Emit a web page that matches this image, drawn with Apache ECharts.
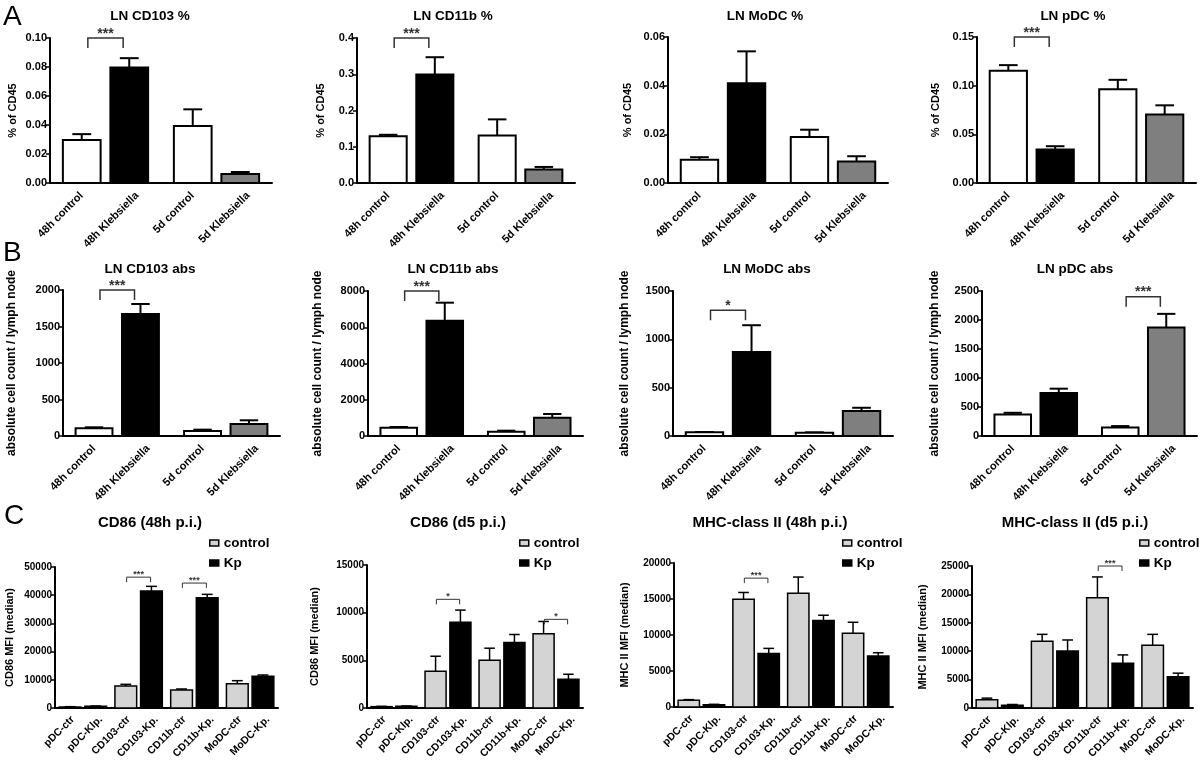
<!DOCTYPE html>
<html>
<head>
<meta charset="utf-8">
<script src="https://cdn.jsdelivr.net/npm/echarts@6/dist/echarts.min.js"></script>
<style>html,body{margin:0;padding:0;background:#fff}#c{width:1200px;height:765px}</style>
</head>
<body>
<div id="c"></div>
<script>
const FONT = '"Liberation Sans", Arial, Helvetica, sans-serif';

// ---------- category / tick labels ----------
const groupLabels = ['48h control', '48h Klebsiella', '5d control', '5d Klebsiella'];
const markerLabels = ['pDC-ctr', 'pDC-Klp.', 'CD103-ctr', 'CD103-Kp.', 'CD11b-ctr', 'CD11b-Kp.', 'MoDC-ctr', 'MoDC-Kp.'];
const legendNames = ['control', 'Kp'];

// ---------- A: % of CD45 (mean, SEM) ----------
const cd103Pct = [0.0296, 0.0797, 0.0393, 0.0062];
const cd103PctSem = [0.0041, 0.0064, 0.0115, 0.0014];
const cd11bPct = [0.129, 0.299, 0.131, 0.037];
const cd11bPctSem = [0.004, 0.048, 0.0445, 0.0073];
const modcPct = [0.0096, 0.041, 0.0189, 0.0088];
const modcPctSem = [0.001, 0.0131, 0.003, 0.0022];
const pdcPct = [0.1153, 0.0344, 0.0963, 0.0705];
const pdcPctSem = [0.0058, 0.0034, 0.0097, 0.0093];

// ---------- B: absolute cell count / lymph node ----------
const cd103Abs = [105, 1671, 68, 164];
const cd103AbsSem = [14, 137, 19, 51];
const cd11bAbs = [460, 6363, 239, 1011];
const cd11bAbsSem = [37, 993, 55, 203];
const modcAbs = [38, 870, 34, 258];
const modcAbsSem = [3, 276, 4, 34];
const pdcAbs = [371, 742, 148, 1872];
const pdcAbsSem = [29, 74, 23, 234];

// ---------- C: MFI (median); populations pDC, CD103, CD11b, MoDC ----------
const cd86h48Ctrl = [355, 7800, 6380, 8630];
const cd86h48CtrlSem = [115, 590, 360, 1060];
const cd86h48Kp = [590, 41490, 39130, 11230];
const cd86h48KpSem = [110, 1650, 1170, 470];
const cd86d5Ctrl = [140, 3855, 5012, 7780];
const cd86d5CtrlSem = [35, 1575, 1261, 1297];
const cd86d5Kp = [175, 9007, 6869, 3014];
const cd86d5KpSem = [35, 1263, 841, 526];
const mhcH48Ctrl = [930, 14977, 15814, 10233];
const mhcH48CtrlSem = [93, 930, 2233, 1534];
const mhcH48Kp = [326, 7442, 12000, 7070];
const mhcH48KpSem = [46, 698, 744, 465];
const mhcD5Ctrl = [1450, 11740, 19393, 11040];
const mhcD5CtrlSem = [290, 1227, 3679, 1927];
const mhcD5Kp = [500, 10047, 7886, 5490];
const mhcD5KpSem = [116, 1927, 1460, 644];

// ---------- significance brackets: [from bar, to bar, level, label] ----------
const cd103PctSig = [[0, 1, 0.1, '***']];
const cd11bPctSig = [[0, 1, 0.4, '***']];
const modcPctSig = [];
const pdcPctSig = [[0, 1, 0.15, '***']];
const cd103AbsSig = [[0, 1, 2000, '***']];
const cd11bAbsSig = [[0, 1, 8000, '***']];
const modcAbsSig = [[0, 1, 1300, '*']];
const pdcAbsSig = [[2, 3, 2400, '***']];
const cd86h48Sig = [[2, 3, 46400, '***'], [4, 5, 44300, '***']];
const cd86d5Sig = [[2, 3, 11400, '*'], [6, 7, 9300, '*']];
const mhcH48Sig = [[2, 3, 17900, '***']];
const mhcD5Sig = [[4, 5, 25000, '***']];

// ---------- styles ----------
const abColours = ['#ffffff', '#000000', '#ffffff', '#7f7f7f'];
const ctrlColour = '#d4d4d4';
const kpColour = '#000000';

// ---------- panel layout ----------
const panels = [
  // row A
  {title: 'LN CD103 %', mean: cd103Pct, sem: cd103PctSem, sig: cd103PctSig, max: 0.10, step: 0.02, dec: 2, name: '% of CD45',
   g: [50, 38, 222, 145], tx: 150, ty: 9, gap: 32},
  {title: 'LN CD11b %', mean: cd11bPct, sem: cd11bPctSem, sig: cd11bPctSig, max: 0.4, step: 0.1, dec: 1, name: '% of CD45',
   g: [357, 38, 218, 145], tx: 453, ty: 9, gap: 31},
  {title: 'LN MoDC %', mean: modcPct, sem: modcPctSem, sig: modcPctSig, max: 0.06, step: 0.02, dec: 2, name: '% of CD45',
   g: [668, 37, 220, 146], tx: 765, ty: 9, gap: 35},
  {title: 'LN pDC %', mean: pdcPct, sem: pdcPctSem, sig: pdcPctSig, max: 0.15, step: 0.05, dec: 2, name: '% of CD45',
   g: [977, 37, 219, 146], tx: 1073, ty: 9, gap: 36},
  // row B
  {title: 'LN CD103 abs', mean: cd103Abs, sem: cd103AbsSem, sig: cd103AbsSig, max: 2000, step: 500, dec: 0, name: 'absolute cell count / lymph node',
   g: [63, 290, 217, 146], tx: 150, ty: 262, gap: 45},
  {title: 'LN CD11b abs', mean: cd11bAbs, sem: cd11bAbsSem, sig: cd11bAbsSig, max: 8000, step: 2000, dec: 0, name: 'absolute cell count / lymph node',
   g: [368, 291, 215, 145], tx: 453, ty: 262, gap: 44},
  {title: 'LN MoDC abs', mean: modcAbs, sem: modcAbsSem, sig: modcAbsSig, max: 1500, step: 500, dec: 0, name: 'absolute cell count / lymph node',
   g: [673, 291, 220, 145], tx: 767, ty: 262, gap: 42},
  {title: 'LN pDC abs', mean: pdcAbs, sem: pdcAbsSem, sig: pdcAbsSig, max: 2500, step: 500, dec: 0, name: 'absolute cell count / lymph node',
   g: [982, 291, 215, 145], tx: 1075, ty: 262, gap: 41},
  // row C
  {title: 'CD86 (48h p.i.)', ctrl: cd86h48Ctrl, ctrlSem: cd86h48CtrlSem, kp: cd86h48Kp, kpSem: cd86h48KpSem, sig: cd86h48Sig,
   max: 50000, step: 10000, dec: 0, name: 'CD86 MFI (median)', g: [55, 567, 223, 141], tx: 150, ty: 515, gap: 40, lx: 209, ly: 536},
  {title: 'CD86 (d5 p.i.)', ctrl: cd86d5Ctrl, ctrlSem: cd86d5CtrlSem, kp: cd86d5Kp, kpSem: cd86d5KpSem, sig: cd86d5Sig,
   max: 15000, step: 5000, dec: 0, name: 'CD86 MFI (median)', g: [367, 565, 216, 143], tx: 458, ty: 515, gap: 47, lx: 519, ly: 536},
  {title: 'MHC-class II (48h p.i.)', ctrl: mhcH48Ctrl, ctrlSem: mhcH48CtrlSem, kp: mhcH48Kp, kpSem: mhcH48KpSem, sig: mhcH48Sig,
   max: 20000, step: 5000, dec: 0, name: 'MHC II MFI (median)', g: [674, 563, 219, 144], tx: 770, ty: 515, gap: 44, lx: 842, ly: 536},
  {title: 'MHC-class II (d5 p.i.)', ctrl: mhcD5Ctrl, ctrlSem: mhcD5CtrlSem, kp: mhcD5Kp, kpSem: mhcD5KpSem, sig: mhcD5Sig,
   max: 25000, step: 5000, dec: 0, name: 'MHC II MFI (median)', g: [972, 566, 221, 142], tx: 1075, ty: 515, gap: 44, lx: 1139, ly: 536}
];

// ---------- renderers ----------
function barsRenderer(colours, shiftFrac, widthFrac, lw) {
  return function (params, api) {
    const i = api.value(0);
    const v = api.value(1);
    const e = api.value(2);
    const band = api.size([1, 0])[0];
    const dir = i % 2 === 0 ? 1 : -1;
    const p = api.coord([i, v]);
    const b = api.coord([i, 0]);
    const t = api.coord([i, e]);
    const cx = p[0] + dir * shiftFrac * band;
    const w = widthFrac * band;
    const fill = colours ? colours[i] : api.visual('color');
    return {
      type: 'group',
      children: [
        {type: 'line', shape: {x1: cx, y1: p[1], x2: cx, y2: t[1]}, style: {stroke: '#000', lineWidth: lw}},
        {type: 'line', shape: {x1: cx - w / 4, y1: t[1], x2: cx + w / 4, y2: t[1]}, style: {stroke: '#000', lineWidth: lw}},
        {type: 'rect', shape: {x: cx - w / 2, y: p[1], width: w, height: b[1] - p[1]}, style: {fill: fill, stroke: '#000', lineWidth: lw}}
      ]
    };
  };
}

function bracketRenderer(sig, shiftFrac, insetFrac, leg, starSize, lw) {
  return function (params, api) {
    const i1 = api.value(0), i2 = api.value(1), lvl = api.value(2);
    const band = api.size([1, 0])[0];
    const a = api.coord([i1, lvl]);
    const c = api.coord([i2, lvl]);
    const x1 = a[0] + (i1 % 2 === 0 ? 1 : -1) * shiftFrac * band + insetFrac * band;
    const x2 = c[0] + (i2 % 2 === 0 ? 1 : -1) * shiftFrac * band - insetFrac * band;
    const y = a[1];
    return {
      type: 'group',
      children: [
        {type: 'polyline', shape: {points: [[x1, y + leg], [x1, y], [x2, y], [x2, y + leg]]},
         style: {stroke: '#333', lineWidth: lw, fill: null}},
        {type: 'text', x: (x1 + x2) / 2, y: y - starSize * 0.8,
         style: {text: sig[params.dataIndex][3], fill: '#333', align: 'center', verticalAlign: 'top',
                 font: 'bold ' + starSize + 'px ' + FONT}}
      ]
    };
  };
}

// ---------- build option ----------
const grids = [], xAxes = [], yAxes = [], titles = [], series = [], legends = [];

panels.forEach(function (p, k) {
  const isC = !!p.ctrl;
  grids.push({left: p.g[0], top: p.g[1], width: p.g[2], height: p.g[3], containLabel: false, outerBoundsMode: 'none'});
  xAxes.push({
    type: 'category', gridIndex: k, data: isC ? markerLabels : groupLabels, boundaryGap: true,
    axisLine: {show: true, lineStyle: {color: '#000', width: 2}},
    axisTick: {show: false},
    splitLine: {show: false},
    axisLabel: {interval: 0, rotate: 45, margin: isC ? 6 : 7, verticalAlign: 'top', color: '#000', fontWeight: 'bold',
                fontSize: isC ? 10.5 : 11, fontFamily: FONT}
  });
  yAxes.push({
    type: 'value', gridIndex: k, min: 0, max: p.max, interval: p.step,
    axisLine: {show: true, lineStyle: {color: '#000', width: 2}},
    axisTick: {show: true, length: 4, lineStyle: {color: '#000', width: 1.5}},
    splitLine: {show: false},
    axisLabel: {margin: 3, color: '#000', fontWeight: 'bold', fontSize: isC ? 10 : 11, fontFamily: FONT,
                formatter: (function (d) { return function (v) { return v.toFixed(d); }; })(p.dec)},
    name: p.name, nameLocation: 'middle', nameGap: p.gap,
    nameTextStyle: {color: '#000', fontWeight: 'bold', fontSize: isC ? 11 : (k < 4 ? 11 : 12), fontFamily: FONT}
  });
  titles.push({
    text: p.title, left: p.tx, top: p.ty, textAlign: 'center', padding: 0,
    textStyle: {color: '#000', fontWeight: 'bold', fontSize: isC ? 15 : 13.5, fontFamily: FONT}
  });

  if (!isC) {
    series.push({
      type: 'custom', name: p.title, xAxisIndex: k, yAxisIndex: k,
      renderItem: barsRenderer(abColours, 0.072, 0.68, 2),
      encode: {x: 0, y: 1},
      data: p.mean.map(function (m, i) { return [i, m, m + p.sem[i]]; })
    });
    series.push({
      type: 'custom', name: p.title + ' sig', xAxisIndex: k, yAxisIndex: k,
      renderItem: bracketRenderer(p.sig, 0.072, 0.11, 10, 14, 1.5),
      encode: {x: 0, y: 2},
      data: p.sig.map(function (s) { return [s[0], s[1], s[2]]; })
    });
  } else {
    series.push({
      type: 'custom', name: legendNames[0], xAxisIndex: k, yAxisIndex: k,
      itemStyle: {color: ctrlColour, borderColor: '#000', borderWidth: 1.5},
      renderItem: barsRenderer(null, 0.04, 0.78, 1.5),
      encode: {x: 0, y: 1},
      data: p.ctrl.map(function (m, i) { return [2 * i, m, m + p.ctrlSem[i]]; })
    });
    series.push({
      type: 'custom', name: legendNames[1], xAxisIndex: k, yAxisIndex: k,
      itemStyle: {color: kpColour, borderColor: '#000', borderWidth: 1.5},
      renderItem: barsRenderer(null, 0.04, 0.78, 1.5),
      encode: {x: 0, y: 1},
      data: p.kp.map(function (m, i) { return [2 * i + 1, m, m + p.kpSem[i]]; })
    });
    series.push({
      type: 'custom', name: p.title + ' sig', xAxisIndex: k, yAxisIndex: k,
      renderItem: bracketRenderer(p.sig, 0.04, 0.03, 5, 9, 1),
      encode: {x: 0, y: 2},
      data: p.sig.map(function (s) { return [s[0], s[1], s[2]]; })
    });
    legends.push({
      orient: 'vertical', left: p.lx, top: p.ly, padding: 0, itemWidth: 9, itemHeight: 6, itemGap: 6,
      icon: 'rect', selectedMode: false,
      textStyle: {color: '#000', fontWeight: 'bold', fontSize: 13.5, fontFamily: FONT},
      data: [
        {name: legendNames[0], itemStyle: {color: ctrlColour, borderColor: '#000', borderWidth: 1.5}},
        {name: legendNames[1], itemStyle: {color: kpColour, borderColor: '#000', borderWidth: 1.5}}
      ]
    });
  }
});

const panelLetters = [['A', 3, 3], ['B', 3, 239], ['C', 4, 502]];

const option = {
  backgroundColor: '#ffffff',
  animation: false,
  grid: grids,
  xAxis: xAxes,
  yAxis: yAxes,
  title: titles,
  legend: legends,
  series: series,
  graphic: panelLetters.map(function (l) {
    return {type: 'text', left: l[1], top: l[2],
            style: {text: l[0], fill: '#000', font: 'normal 28px ' + FONT}};
  })
};

const chart = echarts.init(document.getElementById('c'), null, {renderer: 'canvas'});
chart.setOption(option);
</script>
</body>
</html>
